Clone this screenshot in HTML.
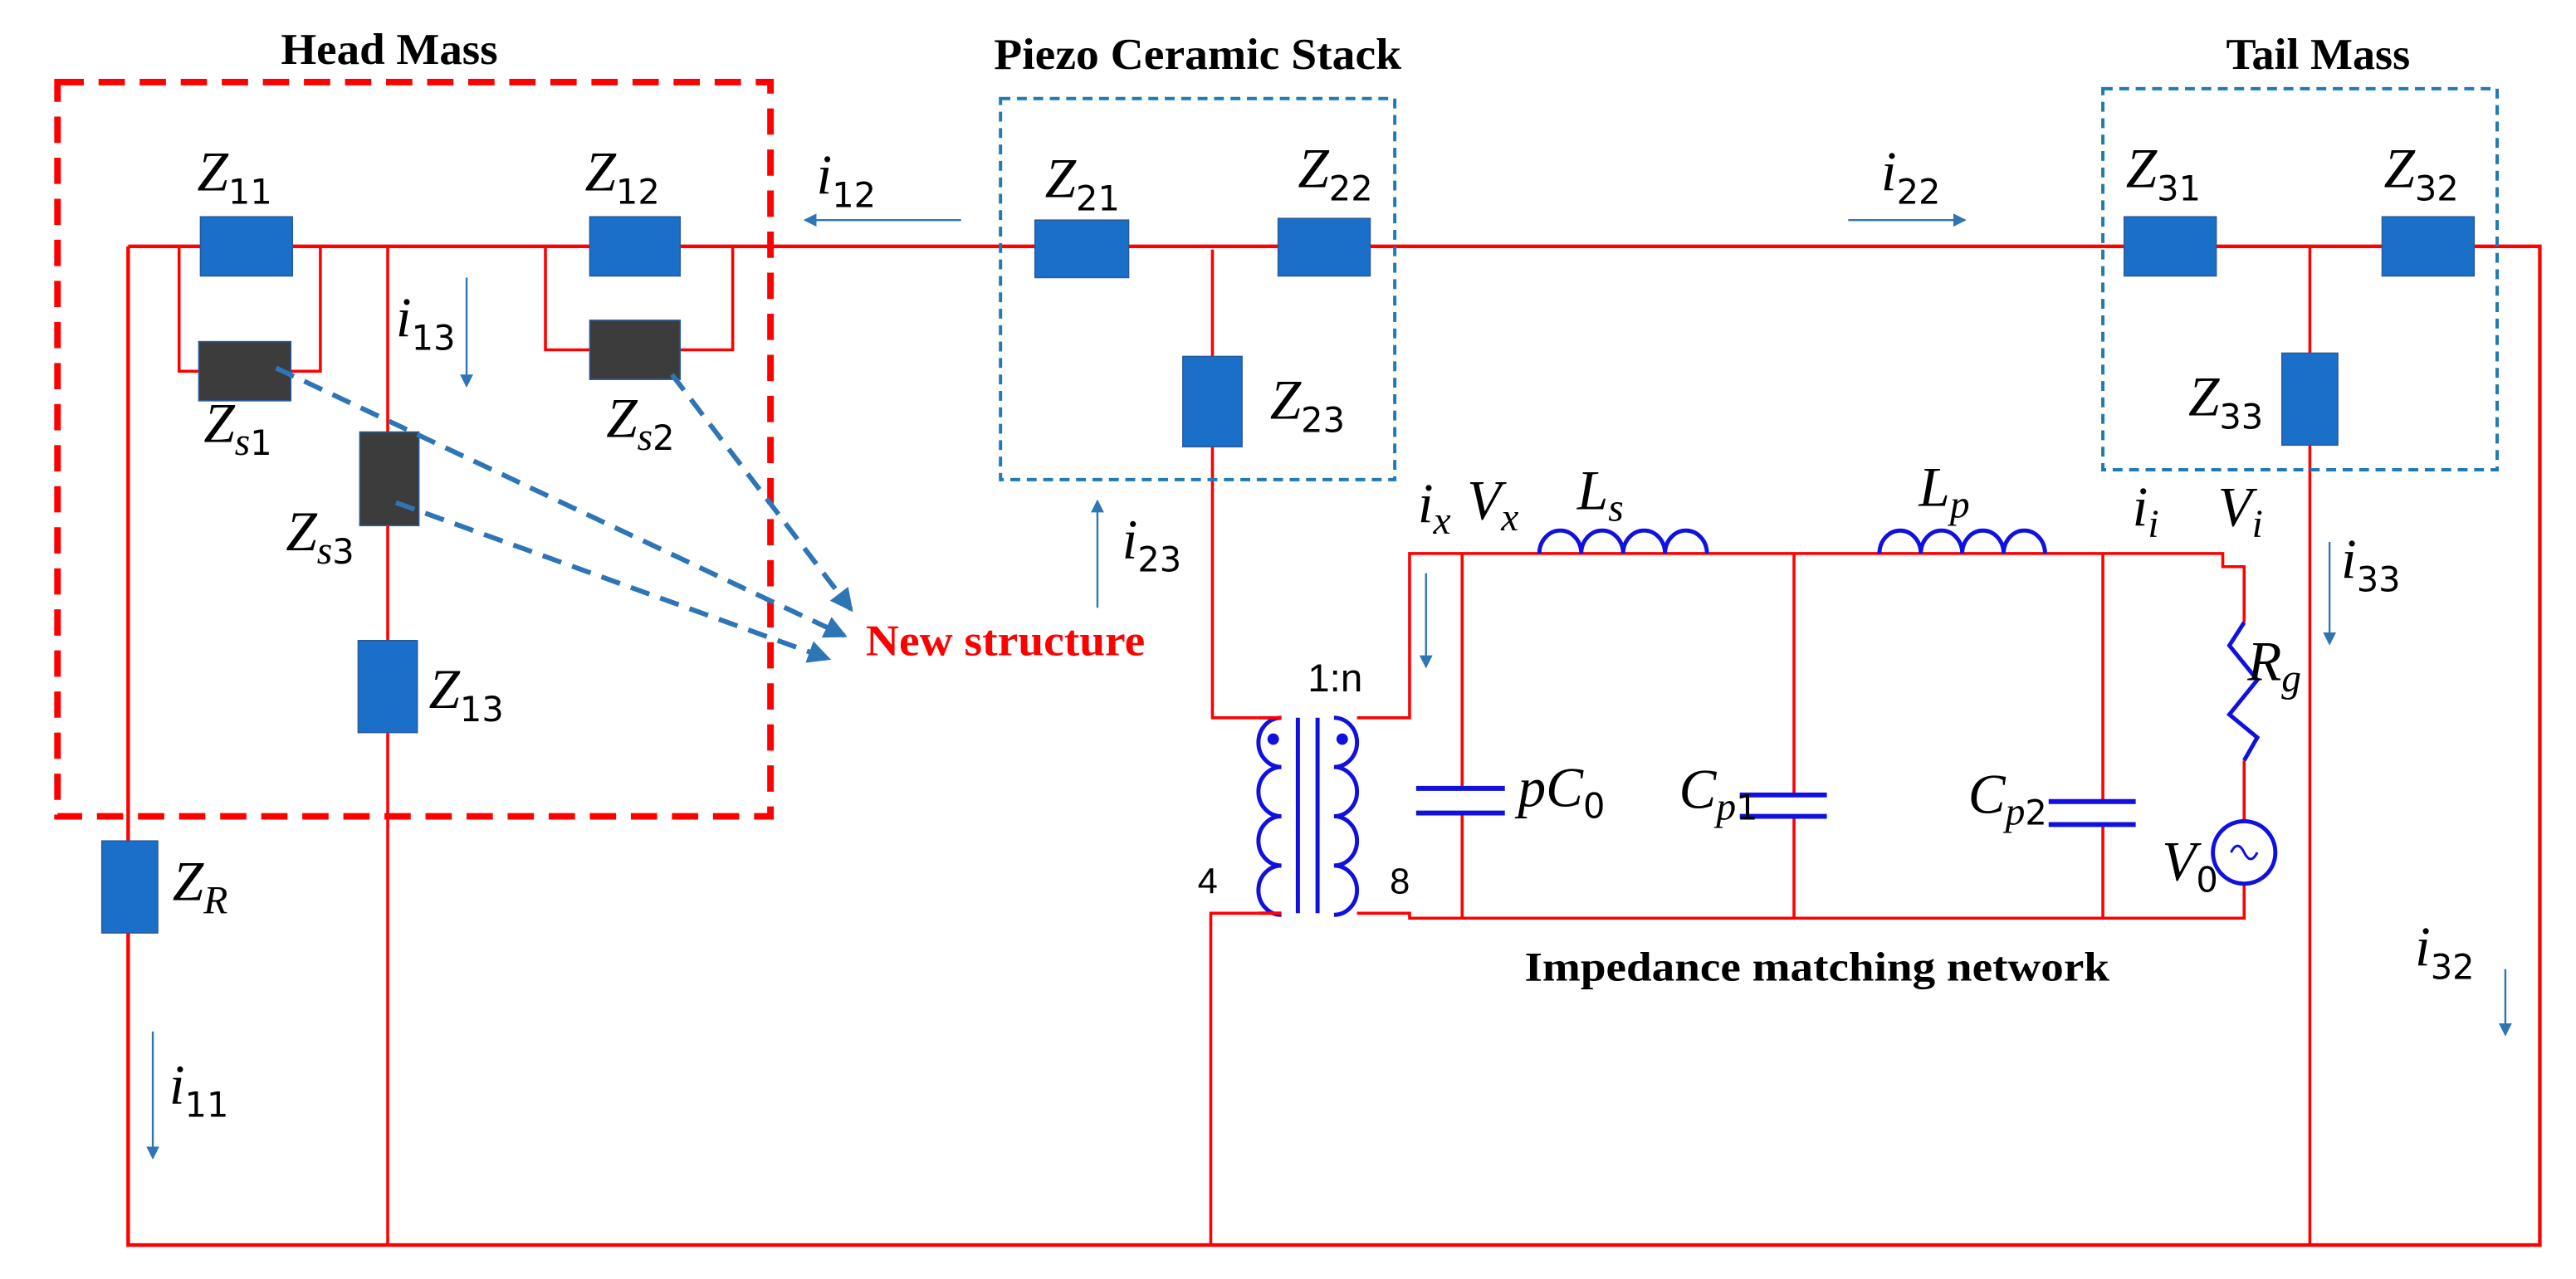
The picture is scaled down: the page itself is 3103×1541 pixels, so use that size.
<!DOCTYPE html>
<html><head><meta charset="utf-8"><style>
html,body{margin:0;padding:0;background:#fff}
svg{display:block}
.m{font-family:"Liberation Serif",serif;font-style:italic;font-size:34px;fill:#000}
.s{font-family:"DejaVu Sans","Liberation Sans",sans-serif;font-style:normal;font-size:21px}
.si{font-family:"Liberation Serif",serif;font-style:italic;font-size:24px}
.t{font-family:"Liberation Serif",serif;font-weight:bold;font-size:27px;fill:#000}
</style></head><body>
<svg width="3103" height="1541" viewBox="0 0 1568 778.7" xmlns="http://www.w3.org/2000/svg">
<defs>
<marker id="a" markerWidth="8" markerHeight="8" refX="7" refY="4" orient="auto" markerUnits="userSpaceOnUse"><path d="M0,0 L8,4 L0,8 z" fill="#2e75b6"/></marker>
<marker id="b" markerWidth="14" markerHeight="14" refX="12" refY="7" orient="auto" markerUnits="userSpaceOnUse"><path d="M0,0 L14,7 L0,14 z" fill="#2e75b6"/></marker>
</defs>
<g stroke="#f00" stroke-width="1.8" fill="none">
<!-- main wires -->
<polyline points="78,150 1546,150 1546,758 78,758 78,150" stroke-width="2.2"/>
<line x1="236" y1="150" x2="236" y2="758"/>
<line x1="1406" y1="150" x2="1406" y2="758"/>
<polyline points="109,150 109,226 195,226 195,150"/>
<polyline points="332,150 332,213 446,213 446,150"/>
<polyline points="738,152 738,437 766,437"/>
<polyline points="766,556 737,556 737,758"/>
<polyline points="826,437 858,437 858,337 1353,337 1353,345 1366,345 1366,379"/>
<line x1="1366" y1="463" x2="1366" y2="499"/>
<polyline points="826,556 858,556 858,559 1366,559 1366,539"/>
<line x1="890" y1="337" x2="890" y2="480"/><line x1="890" y1="495" x2="890" y2="559"/>
<line x1="1092" y1="337" x2="1092" y2="484"/><line x1="1092" y1="497" x2="1092" y2="559"/>
<line x1="1280" y1="337" x2="1280" y2="488"/><line x1="1280" y1="502" x2="1280" y2="559"/>
</g>
<!-- dashed boxes -->
<rect x="35" y="50" width="434" height="447" fill="none" stroke="#f00" stroke-width="4" stroke-dasharray="16,9"/>
<rect x="609" y="60" width="240" height="232" fill="none" stroke="#1f7ab5" stroke-width="2" stroke-dasharray="6,4"/>
<rect x="1280" y="54" width="240" height="232" fill="none" stroke="#1f7ab5" stroke-width="2" stroke-dasharray="6,4"/>
<!-- blue boxes -->
<g fill="#1a70c8" stroke="#2a5a9a" stroke-width="0.8">
<rect x="122" y="132" width="56" height="36"/>
<rect x="359" y="132" width="55" height="36"/>
<rect x="218" y="390" width="36" height="56"/>
<rect x="62" y="512" width="34" height="56"/>
<rect x="630" y="134" width="57" height="35"/>
<rect x="778" y="133" width="56" height="35"/>
<rect x="720" y="217" width="36" height="55"/>
<rect x="1293" y="132" width="56" height="36"/>
<rect x="1450" y="132" width="56" height="36"/>
<rect x="1389" y="215" width="34" height="56"/>
</g>
<g fill="#3c3c3c" stroke="#2a5a9a" stroke-width="0.8">
<rect x="121" y="208" width="56" height="36"/>
<rect x="359" y="195" width="55" height="36"/>
<rect x="219" y="263" width="36" height="57"/>
</g>
<!-- dashed arrows -->
<g stroke="#2e75b6" stroke-width="3" stroke-dasharray="12,7" fill="none">
<line x1="168" y1="224" x2="514" y2="387" marker-end="url(#b)"/>
<line x1="241" y1="306" x2="504" y2="401" marker-end="url(#b)"/>
<line x1="409" y1="228" x2="518" y2="371" marker-end="url(#b)"/>
</g>
<!-- current arrows -->
<g stroke="#2e75b6" stroke-width="1.2">
<line x1="585" y1="134" x2="490" y2="134" marker-end="url(#a)"/>
<line x1="284" y1="169" x2="284" y2="235" marker-end="url(#a)"/>
<line x1="1125" y1="134" x2="1196" y2="134" marker-end="url(#a)"/>
<line x1="668" y1="370" x2="668" y2="305" marker-end="url(#a)"/>
<line x1="868" y1="349" x2="868" y2="406" marker-end="url(#a)"/>
<line x1="1418" y1="330" x2="1418" y2="392" marker-end="url(#a)"/>
<line x1="1525" y1="590" x2="1525" y2="630" marker-end="url(#a)"/>
<line x1="93" y1="628" x2="93" y2="705" marker-end="url(#a)"/>
</g>
<!-- circuit blue parts -->
<g stroke="#1010e0" stroke-width="2.5" fill="none">
<path d="M937,337 a12.75,14 0 0 1 25.5,0 a12.75,14 0 0 1 25.5,0 a12.75,14 0 0 1 25.5,0 a12.75,14 0 0 1 25.5,0"/>
<path d="M1144,337 a12.6,14 0 0 1 25.2,0 a12.6,14 0 0 1 25.2,0 a12.6,14 0 0 1 25.2,0 a12.6,14 0 0 1 25.2,0"/>
<path d="M780,437 a14,15 0 0 0 0,30 a14,15 0 0 0 0,30 a14,15 0 0 0 0,30 a14,15 0 0 0 0,30"/>
<path d="M812,437 a14,15 0 0 1 0,30 a14,15 0 0 1 0,30 a14,15 0 0 1 0,30 a14,15 0 0 1 0,30"/>
<line x1="790" y1="437" x2="790" y2="556"/><line x1="802" y1="437" x2="802" y2="556"/>
<line x1="862" y1="480" x2="916" y2="480" stroke-width="3"/><line x1="862" y1="495" x2="916" y2="495" stroke-width="3"/>
<line x1="1059" y1="484" x2="1112" y2="484" stroke-width="3"/><line x1="1059" y1="497" x2="1112" y2="497" stroke-width="3"/>
<line x1="1247" y1="488" x2="1300" y2="488" stroke-width="3"/><line x1="1247" y1="502" x2="1300" y2="502" stroke-width="3"/>
<polyline points="1366,379 1357,393 1374,414 1357,435 1374,449 1366,463"/>
<circle cx="1366" cy="519" r="19"/>
<path d="M1358,519 q4,-8 8,0 t8,0" stroke-width="1.5"/>
</g>
<line x1="766" y1="437" x2="780" y2="437" stroke="#f00" stroke-width="2"/>
<line x1="766" y1="556" x2="780" y2="556" stroke="#f00" stroke-width="2"/>
<circle cx="775" cy="450" r="3.5" fill="#1010e0"/><circle cx="817" cy="450" r="3.5" fill="#1010e0"/>
<!-- titles -->
<text class="t" x="171" y="39" textLength="132" lengthAdjust="spacingAndGlyphs">Head Mass</text>
<text class="t" x="605" y="42" textLength="248" lengthAdjust="spacingAndGlyphs">Piezo Ceramic Stack</text>
<text class="t" x="1355" y="42" textLength="112" lengthAdjust="spacingAndGlyphs">Tail Mass</text>
<text class="t" x="527" y="399" fill="#f00" style="fill:#f00" textLength="170" lengthAdjust="spacingAndGlyphs">New structure</text>
<text class="t" x="928" y="597" textLength="356" lengthAdjust="spacingAndGlyphs" style="font-size:25px">Impedance matching network</text>
<!-- labels -->
<text class="m" x="120" y="116">Z<tspan class="s" dy="8">11</tspan></text>
<text class="m" x="356" y="116">Z<tspan class="s" dy="8">12</tspan></text>
<text class="m" x="124" y="269">Z<tspan class="si" dy="8">s</tspan><tspan class="s">1</tspan></text>
<text class="m" x="369" y="266">Z<tspan class="si" dy="8">s</tspan><tspan class="s">2</tspan></text>
<text class="m" x="174" y="335">Z<tspan class="si" dy="8">s</tspan><tspan class="s">3</tspan></text>
<text class="m" x="261" y="431">Z<tspan class="s" dy="8">13</tspan></text>
<text class="m" x="241" y="205">i<tspan class="s" dy="8">13</tspan></text>
<text class="m" x="497" y="118">i<tspan class="s" dy="8">12</tspan></text>
<text class="m" x="105" y="548">Z<tspan class="si" dy="8">R</tspan></text>
<text class="m" x="103" y="672">i<tspan class="s" dy="8">11</tspan></text>
<text class="m" x="636" y="120">Z<tspan class="s" dy="8">21</tspan></text>
<text class="m" x="790" y="114">Z<tspan class="s" dy="8">22</tspan></text>
<text class="m" x="773" y="255">Z<tspan class="s" dy="8">23</tspan></text>
<text class="m" x="683" y="340">i<tspan class="s" dy="8">23</tspan></text>
<text class="m" x="1145" y="116">i<tspan class="s" dy="8">22</tspan></text>
<text class="m" x="1294" y="114">Z<tspan class="s" dy="8">31</tspan></text>
<text class="m" x="1451" y="114">Z<tspan class="s" dy="8">32</tspan></text>
<text class="m" x="1332" y="253">Z<tspan class="s" dy="8">33</tspan></text>
<text class="m" x="1425" y="352">i<tspan class="s" dy="8">33</tspan></text>
<text class="m" x="1470" y="588">i<tspan class="s" dy="8">32</tspan></text>
<text class="m" x="863" y="318">i<tspan class="si" dy="7">x</tspan></text>
<text class="m" x="893" y="316">V<tspan class="si" dy="7">x</tspan></text>
<text class="m" x="960" y="310">L<tspan class="si" dy="7">s</tspan></text>
<text class="m" x="1168" y="308">L<tspan class="si" dy="7">p</tspan></text>
<text class="m" x="1298" y="320">i<tspan class="si" dy="7">i</tspan></text>
<text class="m" x="1350" y="320">V<tspan class="si" dy="7">i</tspan></text>
<text class="m" x="1368" y="414">R<tspan class="si" dy="7">g</tspan></text>
<text class="m" x="924" y="491">pC<tspan class="s" dy="7">0</tspan></text>
<text class="m" x="1022" y="492">C<tspan class="si" dy="7">p</tspan><tspan class="s">1</tspan></text>
<text class="m" x="1198" y="495">C<tspan class="si" dy="7">p</tspan><tspan class="s">2</tspan></text>
<text class="m" x="1316" y="536">V<tspan class="s" dy="7">0</tspan></text>
<text x="796" y="421" font-family="Liberation Sans,sans-serif" font-size="24">1:n</text>
<text x="729" y="544" font-family="Liberation Sans,sans-serif" font-size="22">4</text>
<text x="846" y="544" font-family="Liberation Sans,sans-serif" font-size="22">8</text>
</svg>
</body></html>
